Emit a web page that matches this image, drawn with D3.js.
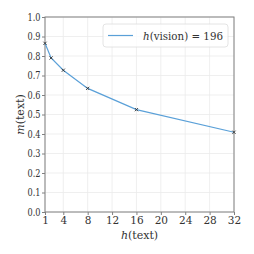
<!DOCTYPE html>
<html>
<head>
<meta charset="utf-8">
<script src="https://cdn.jsdelivr.net/npm/d3@7"></script>
<style>
  body { margin: 0; background: #fff; }
</style>
</head>
<body>
<script>
// data
const hText = [1, 2, 4, 8, 16, 32];
const mText = [0.865, 0.79, 0.727, 0.634, 0.525, 0.409];
const xTicks = [1, 4, 8, 12, 16, 20, 24, 28, 32];
const yTicks = [0, 0.1, 0.2, 0.3, 0.4, 0.5, 0.6, 0.7, 0.8, 0.9, 1.0];
const seriesLabel = "196";

const W = 254, H = 254;
const margin = { top: 17, right: 20, bottom: 42, left: 45 };
const serif = "DejaVu Serif";

const svg = d3.select("body").append("svg")
    .attr("width", W)
    .attr("height", H)
    .attr("font-family", serif);

const x = d3.scaleLinear().domain([1, 32]).range([margin.left, W - margin.right]);
const y = d3.scaleLinear().domain([0, 1]).range([H - margin.bottom, margin.top]);

// grid
svg.append("g").selectAll("line").data(xTicks).enter().append("line")
    .attr("x1", d => x(d)).attr("x2", d => x(d))
    .attr("y1", y(0)).attr("y2", y(1))
    .style("stroke", "#ebebeb").style("stroke-width", 0.8);
svg.append("g").selectAll("line").data(yTicks).enter().append("line")
    .attr("x1", x(1)).attr("x2", x(32))
    .attr("y1", d => y(d)).attr("y2", d => y(d))
    .style("stroke", "#ebebeb").style("stroke-width", 0.8);

// axes
const xAxis = svg.append("g")
    .attr("transform", "translate(0," + y(0) + ")")
    .call(d3.axisBottom(x).tickValues(xTicks).tickSize(3).tickPadding(2).tickFormat(d3.format("d")));
const yAxis = svg.append("g")
    .attr("transform", "translate(" + x(1) + ",0)")
    .call(d3.axisLeft(y).tickValues(yTicks).tickSize(3).tickPadding(1.5).tickFormat(d3.format(".1f")));
[xAxis, yAxis].forEach(a => {
  a.attr("font-family", serif).attr("font-size", 10.5);
  a.select(".domain").remove();
  a.selectAll("line").style("stroke", "#808080");
  a.selectAll("text").style("fill", "#333");
});
yAxis.selectAll("text").attr("textLength", 13).attr("lengthAdjust", "spacingAndGlyphs");

// frame
svg.append("rect")
    .attr("x", x(1)).attr("y", y(1))
    .attr("width", x(32) - x(1)).attr("height", y(0) - y(1))
    .style("fill", "none").style("stroke", "#808080").style("stroke-width", 1);

// series
const line = d3.line().x((d, i) => x(hText[i])).y(d => y(d));
svg.append("path")
    .datum(mText)
    .attr("d", line)
    .style("fill", "none").style("stroke", "#5aa0d8").style("stroke-width", 1.2);
svg.append("g").selectAll("path").data(mText).enter().append("path")
    .attr("transform", (d, i) => "translate(" + x(hText[i]) + "," + y(d) + ")")
    .attr("d", "M-1.6,-1.6L1.6,1.6M-1.6,1.6L1.6,-1.6")
    .style("stroke", "#333").style("stroke-width", 0.9);

// legend
const lg = svg.append("g");
lg.append("rect")
    .attr("x", 103).attr("y", 24).attr("width", 125).attr("height", 23).attr("rx", 3)
    .style("fill", "#fff").style("fill-opacity", 0.8)
    .style("stroke", "#dddddd").style("stroke-width", 0.8);
lg.append("line")
    .attr("x1", 108).attr("x2", 133).attr("y1", 35.5).attr("y2", 35.5)
    .style("stroke", "#5aa0d8").style("stroke-width", 1.2);
const lt = lg.append("text")
    .attr("x", 143).attr("y", 39.5)
    .attr("font-size", 11).attr("textLength", 80).attr("lengthAdjust", "spacingAndGlyphs")
    .style("fill", "#333");
lt.append("tspan").style("font-style", "italic").text("h");
lt.append("tspan").text("(vision) = " + seriesLabel);

// axis labels
const xl = svg.append("text")
    .attr("x", (x(1) + x(32)) / 2).attr("y", 239)
    .attr("text-anchor", "middle")
    .attr("font-size", 11).style("fill", "#333");
xl.append("tspan").style("font-style", "italic").text("h");
xl.append("tspan").text("(text)");

const yl = svg.append("text")
    .attr("transform", "translate(24," + (y(0) + y(1)) / 2 + ") rotate(-90)")
    .attr("text-anchor", "middle")
    .attr("font-size", 11).style("fill", "#333");
yl.append("tspan").style("font-style", "italic").text("m");
yl.append("tspan").text("(text)");
</script>
</body>
</html>
